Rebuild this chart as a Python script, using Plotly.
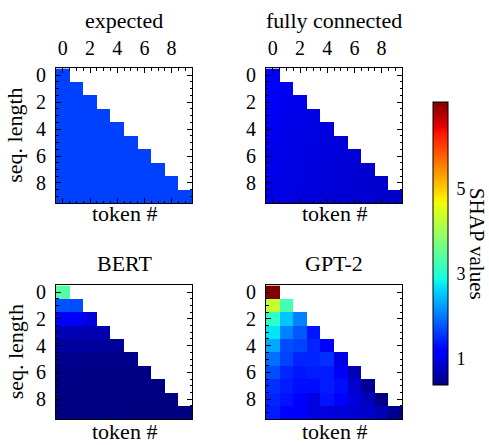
import numpy as np
import plotly.graph_objects as go

# ---- data: SHAP value per (sequence length, token position); row i holds tokens 0..i
tick_vals = [0, 2, 4, 6, 8]
cbar_ticks = [1, 3, 5]
shap_min, shap_max = 0.39, 7.05

expected_rows = [
    [1.65],
    [1.65, 1.65],
    [1.65, 1.65, 1.65],
    [1.65, 1.65, 1.65, 1.65],
    [1.65, 1.65, 1.65, 1.65, 1.65],
    [1.65, 1.65, 1.65, 1.65, 1.65, 1.65],
    [1.65, 1.65, 1.65, 1.65, 1.65, 1.65, 1.65],
    [1.65, 1.65, 1.65, 1.65, 1.65, 1.65, 1.65, 1.65],
    [1.65, 1.65, 1.65, 1.65, 1.65, 1.65, 1.65, 1.65, 1.65],
    [1.65, 1.65, 1.65, 1.65, 1.65, 1.65, 1.65, 1.65, 1.65, 1.65],
]

fully_connected_rows = [
    [1.12],
    [1.11, 1.05],
    [1.10, 1.03, 1.00],
    [1.06, 1.01, 0.99, 0.97],
    [1.04, 1.00, 0.98, 0.96, 0.94],
    [1.02, 0.99, 0.97, 0.95, 0.93, 0.91],
    [1.01, 0.98, 0.96, 0.94, 0.92, 0.90, 0.88],
    [1.00, 0.97, 0.95, 0.93, 0.91, 0.89, 0.87, 0.86],
    [0.99, 0.97, 0.95, 0.93, 0.91, 0.89, 0.87, 0.85, 0.84],
    [0.99, 0.96, 0.94, 0.92, 0.90, 0.88, 0.87, 0.85, 0.84, 0.82],
]

bert_rows = [
    [3.40],
    [1.75, 1.72],
    [1.12, 1.10, 0.92],
    [0.70, 0.69, 0.68, 0.67],
    [0.56, 0.56, 0.55, 0.55, 0.54],
    [0.47, 0.47, 0.46, 0.46, 0.46, 0.45],
    [0.43, 0.43, 0.43, 0.42, 0.42, 0.42, 0.42],
    [0.42, 0.42, 0.41, 0.41, 0.41, 0.41, 0.41, 0.41],
    [0.41, 0.41, 0.41, 0.40, 0.40, 0.40, 0.40, 0.40, 0.40],
    [0.40, 0.40, 0.40, 0.40, 0.40, 0.39, 0.39, 0.39, 0.39, 0.39],
]

gpt2_rows = [
    [7.05],
    [4.32, 3.26],
    [3.10, 2.52, 2.07],
    [2.72, 2.07, 1.80, 1.36],
    [2.32, 1.72, 1.66, 1.46, 1.20],
    [1.94, 1.66, 1.46, 1.46, 1.53, 0.99],
    [1.72, 1.46, 1.36, 1.40, 1.40, 1.10, 0.70],
    [1.53, 1.40, 1.30, 1.30, 1.40, 1.30, 0.85, 0.52],
    [1.46, 1.34, 1.20, 0.95, 1.34, 1.20, 0.90, 0.76, 0.42],
    [1.40, 1.20, 1.20, 0.95, 0.95, 0.90, 0.87, 0.82, 0.70, 0.47],
]

panels = [
    ("expected", expected_rows),
    ("fully connected", fully_connected_rows),
    ("BERT", bert_rows),
    ("GPT-2", gpt2_rows),
]

# ---- matplotlib-style "jet" colour map
_stops = np.array([0, 0.11, 0.125, 0.34, 0.35, 0.375, 0.64, 0.65, 0.66, 0.89, 0.91, 1.0])
_r = np.interp(_stops, [0, 0.35, 0.66, 0.89, 1], [0, 0, 1, 1, 0.5])
_g = np.interp(_stops, [0, 0.125, 0.375, 0.64, 0.91, 1], [0, 0, 1, 1, 0, 0])
_b = np.interp(_stops, [0, 0.11, 0.34, 0.65, 1], [0.5, 1, 1, 0, 0])
jet = [[float(s), f"rgb({int(round(r*255))},{int(round(g*255))},{int(round(b*255))})"]
       for s, r, g, b in zip(_stops, _r, _g, _b)]

W, H = 489, 445
FONT = "Liberation Serif"
TICK_SIZE = 20


def pad(rows):
    n = len(rows)
    return [list(r) + [None] * (n - len(r)) for r in rows]


def fx(p):
    return p / W


def fy(p):
    return 1 - p / H


# plot-area boxes in pixels: (left, right, top, bottom)
boxes = [
    (56, 192, 65, 201),
    (266, 402, 65, 201),
    (56, 192, 284, 419),
    (266, 402, 284, 419),
]

fig = go.Figure()
layout = dict(
    width=W, height=H, autosize=False,
    margin=dict(l=0, r=0, t=0, b=0),
    paper_bgcolor="white", plot_bgcolor="white",
    font=dict(family=FONT, color="black", size=TICK_SIZE),
    showlegend=False,
    coloraxis=dict(
        colorscale=jet, cmin=shap_min, cmax=shap_max,
        colorbar=dict(
            x=fx(433), xanchor="left", y=fy(241.5), yanchor="middle",
            len=283, lenmode="pixels", thickness=15, thicknessmode="pixels",
            outlinecolor="black", outlinewidth=1,
            tickvals=cbar_ticks, ticks="outside", ticklen=5,
            tickcolor="rgba(0,0,0,0)",
            tickfont=dict(family=FONT, size=18, color="black"),
            xpad=0, ypad=0,
        ),
    ),
)

annotations = []
for k, ((title, rows), (l, r, t, b)) in enumerate(zip(panels, boxes)):
    n = len(rows)
    idx = "" if k == 0 else str(k + 1)
    top_row = k < 2
    fig.add_trace(go.Heatmap(
        z=pad(rows), x=list(range(n)), y=list(range(n)),
        coloraxis="coloraxis", xaxis="x" + idx, yaxis="y" + idx,
        hoverongaps=False,
    ))
    axis_common = dict(
        showline=True, linecolor="black", linewidth=1, mirror="allticks",
        showgrid=False, zeroline=False,
        tickvals=tick_vals, tickcolor="black", tickwidth=1,
        tickfont=dict(family=FONT, size=TICK_SIZE, color="black"),
        minor=dict(dtick=0.5, tick0=0, ticks="inside", ticklen=2.5,
                   tickcolor="black", tickwidth=1, showgrid=False),
    )
    xa = dict(axis_common, domain=[fx(l), fx(r)], range=[-0.5, n - 0.5],
              anchor="y" + idx, side="top")
    if top_row:
        xa.update(ticks="inside", ticklen=5, showticklabels=True, ticklabelstandoff=4)
    else:
        xa.update(ticks="", showticklabels=False, mirror=True,
                  minor=dict(ticks="", showgrid=False))
    ya = dict(axis_common, domain=[fy(b), fy(t)], range=[n - 0.5, -0.5],
              anchor="x" + idx, ticks="inside", ticklen=5, ticklabelstandoff=5)
    layout["xaxis" + idx] = xa
    layout["yaxis" + idx] = ya

    cx = (l + r) / 2
    annotations.append(dict(text=title, x=fx(cx), y=fy(17 if top_row else 262),
                            xref="paper", yref="paper", showarrow=False,
                            xanchor="center", yanchor="middle",
                            font=dict(family=FONT, size=22)))
    if top_row:
        annotations.append(dict(text="token #", x=fx(cx), y=fy(211),
                                xref="paper", yref="paper", showarrow=False,
                                xanchor="center", yanchor="middle",
                                font=dict(family=FONT, size=22)))
    else:
        annotations.append(dict(text="token #", x=fx(cx), y=fy(445),
                                xref="paper", yref="paper", showarrow=False,
                                xanchor="center", yanchor="bottom", borderpad=0,
                                font=dict(family=FONT, size=22)))
    if k % 2 == 0:
        annotations.append(dict(text="seq. length", x=fx(15), y=fy((t + b) / 2),
                                xref="paper", yref="paper", showarrow=False,
                                xanchor="center", yanchor="middle", textangle=-90,
                                font=dict(family=FONT, size=22)))

annotations.append(dict(text="SHAP values", x=fx(477), y=fy(242),
                        xref="paper", yref="paper", showarrow=False,
                        xanchor="center", yanchor="middle", textangle=90,
                        borderpad=0, font=dict(family=FONT, size=21)))
layout["annotations"] = annotations
fig.update_layout(**layout)
fig.write_html("out.html")
